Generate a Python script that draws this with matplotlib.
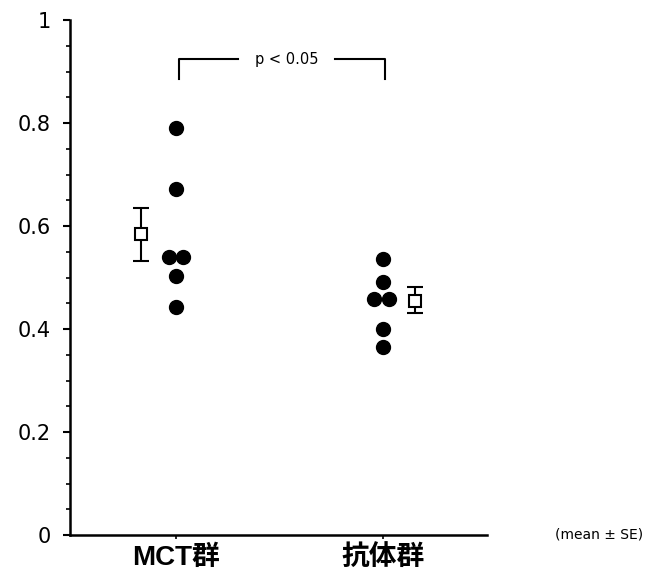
import matplotlib.pyplot as plt
from matplotlib.ticker import MultipleLocator, FuncFormatter

plt.rcParams['font.family'] = ['DejaVu Sans', 'Noto Sans CJK JP']

# data
groups = ['MCT群', '抗体群']
mct_vals = [0.79, 0.672, 0.540, 0.540, 0.503, 0.443]
ab_vals = [0.536, 0.491, 0.458, 0.458, 0.40, 0.365]
means = [0.584, 0.455]
se_lo = [0.532, 0.431]
se_hi = [0.635, 0.482]

# horizontal layout of the dots (offsets from group centre)
mct_dx = [0, 0, -0.035, 0.035, 0, 0]
ab_dx = [0, 0, -0.045, 0.03, 0, 0]
mean_dx = [-0.17, 0.155]


def ylab(v, pos):
    s = f'{v:.1f}'
    if s in ('0.0', '1.0'):
        return s[0]
    return s


fig = plt.figure(figsize=(6.59, 5.71), dpi=100)
ax = fig.add_axes([70 / 659, 36 / 571, 417 / 659, 515 / 571])

xc = [1, 2]
ax.plot([xc[0] + d for d in mct_dx], mct_vals, 'o', color='black', ms=10, zorder=3)
ax.plot([xc[1] + d for d in ab_dx], ab_vals, 'o', color='black', ms=10, zorder=3)

mx = [xc[i] + mean_dx[i] for i in range(2)]
yerr = [[means[i] - se_lo[i] for i in range(2)], [se_hi[i] - means[i] for i in range(2)]]
ax.errorbar(mx, means, yerr=yerr, fmt='s', mfc='white', mec='black', mew=1.5,
            ms=9, ecolor='black', elinewidth=1.5, capsize=6, capthick=1.5, zorder=3)

# significance bracket
ax.plot([1.015, 1.015, 1.3], [0.885, 0.924, 0.924], color='black', lw=1.5)
ax.plot([1.77, 2.01, 2.01], [0.924, 0.924, 0.885], color='black', lw=1.5)
ax.text(1.535, 0.924, 'p < 0.05', ha='center', va='center', fontsize=10.5)

ax.set_xlim(0.488, 2.502)
ax.set_ylim(0, 1)
ax.spines['top'].set_visible(False)
ax.spines['right'].set_visible(False)
ax.spines['left'].set_linewidth(1.8)
ax.spines['bottom'].set_linewidth(1.8)

ax.yaxis.set_major_locator(MultipleLocator(0.2))
ax.yaxis.set_minor_locator(MultipleLocator(0.05))
ax.yaxis.set_major_formatter(FuncFormatter(ylab))
ax.tick_params(axis='y', which='major', length=5, width=1.5, labelsize=15, pad=9)
ax.tick_params(axis='y', which='minor', length=3, width=1.2)

ax.set_xticks(xc)
ax.set_xticklabels(groups, fontsize=20, fontweight='bold',
                   family=['Liberation Sans', 'Noto Sans CJK JP'])
ax.tick_params(axis='x', length=3, width=1.2, pad=4)

fig.text(555 / 659, 36 / 571, '(mean ± SE)', fontsize=10, va='center', ha='left')

fig.savefig('out.png', dpi=100)
